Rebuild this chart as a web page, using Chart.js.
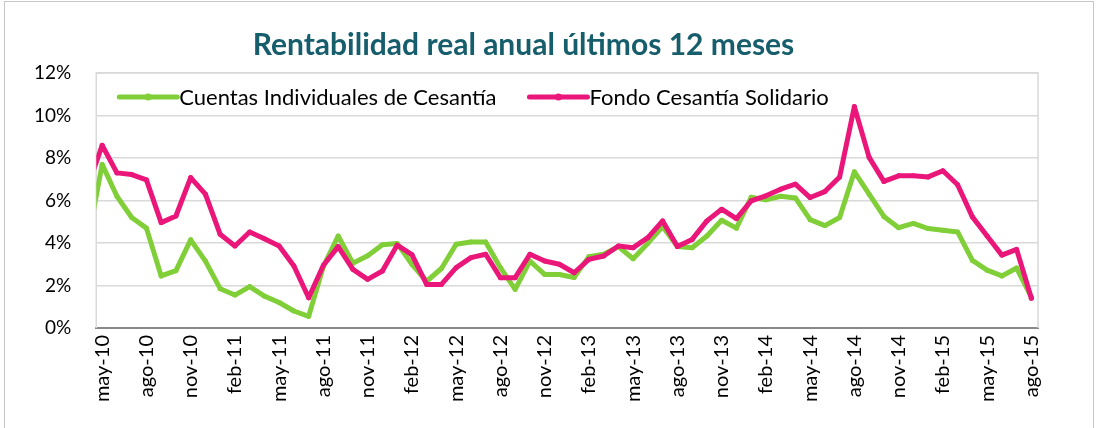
<!DOCTYPE html>
<html>
<head>
<meta charset="utf-8">
<script src="https://cdn.jsdelivr.net/npm/chart.js@4.4.1/dist/chart.umd.min.js"></script>
<style>
  html, body { margin: 0; padding: 0; background: #fff; }
  #wrap { position: relative; width: 1099px; height: 428px; overflow: hidden; }
  #frame { position: absolute; left: 4px; top: 1px; width: 1088px; height: 460px; border: 1px solid #c6c6c6; }
  #chart { position: absolute; left: 0; top: 0; }
</style>
</head>
<body>
<div id="wrap">
  <div id="frame"></div>
  <canvas id="chart" width="1099" height="428"></canvas>
</div>
<script>
// months, the first one (abr-10) is only partly visible at the left edge
const meses = [
  'abr-10', 'may-10', 'jun-10', 'jul-10', 'ago-10', 'sep-10', 'oct-10', 'nov-10', 'dic-10',
  'ene-11', 'feb-11', 'mar-11', 'abr-11', 'may-11', 'jun-11', 'jul-11', 'ago-11', 'sep-11', 'oct-11', 'nov-11', 'dic-11',
  'ene-12', 'feb-12', 'mar-12', 'abr-12', 'may-12', 'jun-12', 'jul-12', 'ago-12', 'sep-12', 'oct-12', 'nov-12', 'dic-12',
  'ene-13', 'feb-13', 'mar-13', 'abr-13', 'may-13', 'jun-13', 'jul-13', 'ago-13', 'sep-13', 'oct-13', 'nov-13', 'dic-13',
  'ene-14', 'feb-14', 'mar-14', 'abr-14', 'may-14', 'jun-14', 'jul-14', 'ago-14', 'sep-14', 'oct-14', 'nov-14', 'dic-14',
  'ene-15', 'feb-15', 'mar-15', 'abr-15', 'may-15', 'jun-15', 'jul-15', 'ago-15'
];

// Cuentas Individuales de Cesantía (%)
const cuentasIndividuales = [
  4.0, 7.7, 6.2, 5.2, 4.7, 2.45, 2.7, 4.15, 3.15,
  1.85, 1.55, 1.95, 1.5, 1.2, 0.8, 0.55, 2.9, 4.33, 3.05, 3.4, 3.92,
  3.98, 3.0, 2.2, 2.8, 3.94, 4.05, 4.05, 2.84, 1.82, 3.15, 2.52, 2.52,
  2.38, 3.36, 3.47, 3.83, 3.26, 3.99, 4.77, 3.83, 3.78, 4.33, 5.07, 4.7,
  6.15, 6.03, 6.2, 6.12, 5.1, 4.82, 5.2, 7.35, 6.3, 5.25, 4.72, 4.92,
  4.68, 4.6, 4.52, 3.18, 2.72, 2.45, 2.82, 1.45
];

// Fondo Cesantía Solidario (%)
const fondoSolidario = [
  6.6, 8.6, 7.3, 7.22, 6.97, 4.96, 5.27, 7.08, 6.3,
  4.41, 3.86, 4.52, 4.2, 3.86, 2.92, 1.42, 2.95, 3.83, 2.76, 2.29, 2.68,
  3.9, 3.45, 2.05, 2.05, 2.84, 3.31, 3.47, 2.37, 2.37, 3.47, 3.15, 3.0,
  2.6, 3.23, 3.39, 3.86, 3.78, 4.25, 5.04, 3.83, 4.17, 5.04, 5.59, 5.15,
  5.98, 6.22, 6.53, 6.77, 6.14, 6.42, 7.11, 10.42, 8.03, 6.9, 7.16, 7.16,
  7.11, 7.4, 6.74, 5.23, 4.33, 3.43, 3.7, 1.4
];

const VERDE = '#80cf38';
const ROSA = '#ea1679';
const FUENTE = 'Lato';

function puntos(valores) {
  return valores.map((v, i) => ({ x: i, y: v }));
}

// light grey frame around the plot area
const marco = {
  id: 'marco',
  beforeDatasetsDraw(chart) {
    const a = chart.chartArea;
    const ctx = chart.ctx;
    ctx.save();
    ctx.strokeStyle = '#d9d9d9';
    ctx.lineWidth = 1.5;
    ctx.beginPath();
    ctx.moveTo(a.left, a.bottom);
    ctx.lineTo(a.left, a.top);
    ctx.lineTo(a.right, a.top);
    ctx.lineTo(a.right, a.bottom);
    ctx.stroke();
    ctx.restore();
  }
};

// legend drawn inside the plot, like the excel one
const leyenda = {
  id: 'leyenda',
  afterDatasetsDraw(chart) {
    const ctx = chart.ctx;
    const a = chart.chartArea;
    const y = a.top + 24;
    let x = a.left + 23;
    ctx.save();
    ctx.font = '22px ' + FUENTE;
    ctx.textBaseline = 'middle';
    ctx.textAlign = 'left';
    chart.data.datasets.forEach(ds => {
      ctx.strokeStyle = ds.borderColor;
      ctx.lineWidth = 5;
      ctx.lineCap = 'round';
      ctx.beginPath();
      ctx.moveTo(x, y);
      ctx.lineTo(x + 58, y);
      ctx.stroke();
      ctx.fillStyle = ds.borderColor;
      ctx.beginPath();
      ctx.arc(x + 29, y, 3.5, 0, Math.PI * 2);
      ctx.fill();
      ctx.fillStyle = '#000';
      ctx.fillText(ds.label, x + 60, y + 1);
      x += 60 + ctx.measureText(ds.label).width + 33;
    });
    ctx.restore();
  }
};

new Chart(document.getElementById('chart'), {
  type: 'line',
  data: {
    datasets: [
      {
        label: 'Cuentas Individuales de Cesantía',
        data: puntos(cuentasIndividuales),
        borderColor: VERDE,
        backgroundColor: VERDE,
        order: 1
      },
      {
        label: 'Fondo Cesantía Solidario',
        data: puntos(fondoSolidario),
        borderColor: ROSA,
        backgroundColor: ROSA,
        order: 0
      }
    ]
  },
  options: {
    responsive: false,
    animation: false,
    devicePixelRatio: 1,
    events: [],
    layout: { padding: { left: 9, right: 61, top: 0, bottom: 0 } },
    elements: {
      line: { borderWidth: 5, tension: 0, borderJoinStyle: 'round', borderCapStyle: 'round' },
      point: { radius: 2.5, borderWidth: 0, hoverRadius: 2.5 }
    },
    plugins: {
      legend: { display: false },
      tooltip: { enabled: false },
      title: {
        display: true,
        text: 'Rentabilidad real anual últimos 12 meses',
        color: '#175e6c',
        font: { family: FUENTE, size: 30, weight: 'bold', lineHeight: 1.2 },
        padding: { top: 27, bottom: 10 }
      }
    },
    scales: {
      x: {
        type: 'linear',
        min: 0.6,
        max: 64.45,
        grid: { display: false, drawTicks: false },
        border: { display: true, color: '#898989', width: 2 },
        afterBuildTicks(scale) {
          scale.ticks = meses
            .map((m, i) => ({ value: i }))
            .filter(t => t.value % 3 === 1);
        },
        afterFit(scale) { scale.height = 100; },
        ticks: {
          autoSkip: false,
          includeBounds: false,
          minRotation: 90,
          maxRotation: 90,
          padding: 7,
          color: '#000',
          font: { family: FUENTE, size: 20 },
          callback: v => meses[v]
        }
      },
      y: {
        min: 0,
        max: 12,
        grid: { color: '#d9d9d9', lineWidth: 1.5, drawTicks: false },
        border: { display: false },
        ticks: {
          stepSize: 2,
          padding: 25,
          color: '#000',
          font: { family: FUENTE, size: 19 },
          callback: v => v + '%'
        }
      }
    }
  },
  plugins: [marco, leyenda]
});
</script>
</body>
</html>
